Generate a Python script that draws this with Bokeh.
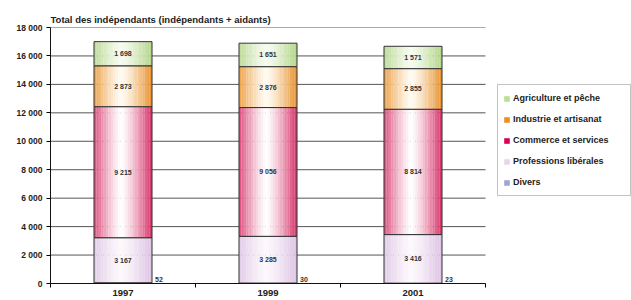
from bokeh.plotting import figure
from bokeh.models import FixedTicker, Legend, LegendItem
from bokeh.embed import file_html
from bokeh.resources import INLINE
from bokeh.core.properties import value

years = ["1997", "1999", "2001"]
divers = [52, 30, 23]
prof = [3167, 3285, 3416]
commerce = [9215, 9056, 8814]
industrie = [2873, 2876, 2855]
agri = [1698, 1651, 1571]
series_names = ["Divers", "Professions libérales", "Commerce et services",
                "Industrie et artisanat", "Agriculture et pêche"]
series_vals = [divers, prof, commerce, industrie, agri]
edge_cols = ["#5a5f8a", "#dcc2e3", "#d62f66", "#e8902a", "#b2d487"]
mid_cols = ["#8e94c4", "#fcf8fc", "#ffffff", "#fffbf2", "#f6fbf0"]
legend_cols = ["#9ea6d6", "#ecd2ea", "#d8005c", "#ee8e1c", "#b8e08e"]
yticks = [0, 2000, 4000, 6000, 8000, 10000, 12000, 14000, 16000, 18000]

FONT = "Liberation Sans"
W = 0.4
N = 24
XMIN, XMAX = -0.5, 2.5

p = figure(width=631, height=300, output_backend="svg", toolbar_location=None,
           x_range=(XMIN, XMIN + 581 / 145), y_range=(0, 18000),
           min_border_left=50, min_border_right=0, min_border_top=27,
           min_border_bottom=17)
p.outline_line_color = None
p.background_fill_color = "white"
p.border_fill_color = "white"

p.title.text = "Total des indépendants (indépendants + aidants)"
p.title.text_font = FONT
p.title.text_font_style = "bold"
p.title.text_font_size = "9.5px"
p.title.text_color = "#222222"
p.title.align = "left"
p.title.offset = 0
p.title.standoff = 5

def hex2rgb(h):
    h = h.lstrip("#")
    return [int(h[i:i+2], 16) for i in (0, 2, 4)]

def mix(a, b, t):
    ra, rb = hex2rgb(a), hex2rgb(b)
    return "#%02x%02x%02x" % tuple(int(round(ra[i] + (rb[i] - ra[i]) * t)) for i in range(3))

# horizontal grid lines limited to the category area
p.xgrid.grid_line_color = None
p.ygrid.grid_line_color = None
p.segment(x0=[XMIN] * len(yticks), x1=[XMAX] * len(yticks), y0=yticks, y1=yticks,
          line_color="#555555", line_width=1)

bottoms = [0, 0, 0]
for s, vals in enumerate(series_vals):
    xs, tops, bots, cols = [], [], [], []
    for i in range(3):
        b = bottoms[i]
        t = b + vals[i]
        for k in range(N):
            frac = (k + 0.5) / N
            xs.append(i - W / 2 + frac * W)
            bots.append(b)
            tops.append(t)
            d = abs(frac - 0.47) / 0.53
            cols.append(mix(mid_cols[s], edge_cols[s], min(1.0, d ** 1.3)))
    p.vbar(x=xs, width=W / N * 1.05, bottom=bots, top=tops, fill_color=cols,
           line_color=None)
    segb = list(bottoms)
    segt = [bottoms[i] + vals[i] for i in range(3)]
    p.vbar(x=[0, 1, 2], width=W, bottom=segb, top=segt, fill_color=None,
           line_color="#333333", line_width=1)
    if s > 0:
        p.text(x=[0, 1, 2], y=[(segb[i] + segt[i]) / 2 for i in range(3)],
               text=[f"{v:,}".replace(",", " ") for v in vals],
               text_font=value(FONT), text_font_style="bold", text_font_size="7px",
               text_color="#333333", text_align="center", text_baseline="middle")
    else:
        p.text(x=[i + W / 2 for i in range(3)], y=[0, 0, 0], text=[str(v) for v in vals],
               x_offset=3, y_offset=-2,
               text_font=value(FONT), text_font_style="bold", text_font_size="7px",
               text_color="#333333", text_align="left", text_baseline="bottom")
    bottoms = segt

p.yaxis.ticker = FixedTicker(ticks=yticks)
p.yaxis.major_label_overrides = {v: f"{v:,}".replace(",", " ") for v in yticks}
p.yaxis.major_label_text_font = FONT
p.yaxis.major_label_text_font_style = "bold"
p.yaxis.major_label_text_font_size = "8.5px"
p.yaxis.major_label_text_color = "#222222"
p.yaxis.major_tick_out = 4
p.yaxis.major_tick_in = 0
p.yaxis.minor_tick_line_color = None
p.yaxis.major_label_standoff = 4
p.yaxis.axis_line_color = "#111111"

p.xaxis.bounds = (XMIN, XMAX)
p.xaxis.ticker = FixedTicker(ticks=[0, 1, 2], minor_ticks=[-0.5, 0.5, 1.5, 2.5])
p.xaxis.major_label_overrides = {0: years[0], 1: years[1], 2: years[2]}
p.xaxis.major_tick_out = 0
p.xaxis.major_tick_in = 0
p.xaxis.minor_tick_out = 4
p.xaxis.minor_tick_in = 0
p.xaxis.major_label_standoff = 2
p.xaxis.major_label_text_font = FONT
p.xaxis.major_label_text_font_style = "bold"
p.xaxis.major_label_text_font_size = "9.5px"
p.xaxis.major_label_text_color = "#222222"
p.xaxis.axis_line_color = "#111111"

# legend
items = []
for s in [4, 3, 2, 1, 0]:
    r = p.vbar(x=[0], width=0.01, bottom=[0], top=[0], fill_color=legend_cols[s],
               line_color=None, fill_alpha=1.0)
    items.append(LegendItem(label=series_names[s], renderers=[r]))
leg = Legend(items=items, location=(447, 87), padding=5, spacing=5,
             label_height=16, glyph_height=7, glyph_width=7, label_standoff=3,
             label_width=112,
             label_text_font=FONT, label_text_font_style="bold",
             label_text_font_size="9px", label_text_color="#222222",
             border_line_color="#888888", border_line_width=1,
             background_fill_color="white", margin=0)
p.add_layout(leg, "center")

open("out.html", "w").write(file_html(p, INLINE))
